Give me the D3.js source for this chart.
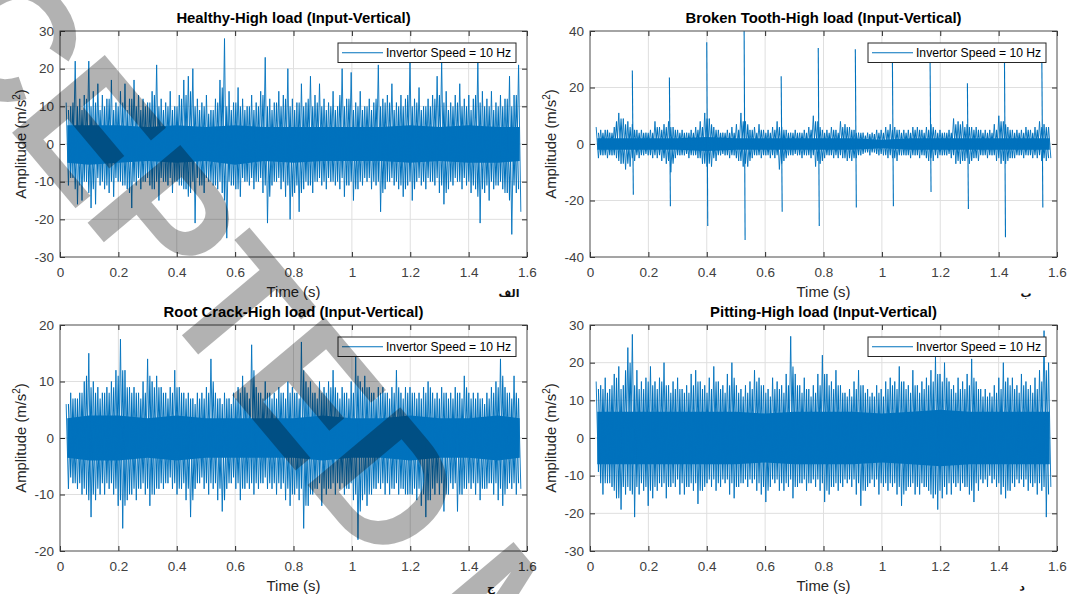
<!DOCTYPE html>
<html>
<head>
<meta charset="utf-8">
<script src="https://cdn.jsdelivr.net/npm/d3@7"></script>
<style>
  body { margin: 0; background: #fff; }
  svg { display: block; font-family: "Liberation Sans", Arial, sans-serif; }
</style>
</head>
<body>
<svg id="chart" width="1072" height="594"></svg>
<script>
// ─── Data ────────────────────────────────────────────────
// main peaks/troughs per bin: t = binStart + i * binStep
// secondary peaks/troughs sit half a bin later
const binStart = 0.025;
const binStep = 0.0155;
const xTicks = [0, 0.2, 0.4, 0.6, 0.8, 1, 1.2, 1.4, 1.6];
const coreT = [0.025, 0.1, 0.2, 0.3, 0.4, 0.5, 0.6, 0.7, 0.8, 0.9, 1.0, 1.1, 1.2, 1.3, 1.4, 1.5, 1.575];

const healthyHi = [11,10,22,12,13,22,14,16,13,12,17,11,14,16,12,17,13,12,11,14,21,12,11,14,10,13,17,18,20,12,11,13,9,12,17,28,14,11,15,12,10,13,11,14,23,12,11,14,13,20,12,11,16,11,18,13,16,12,11,14,10,20,12,19,11,14,10,12,11,21,12,13,16,11,13,12,22,12,15,10,12,13,18,22,14,11,13,16,12,13,12,22,14,12,14,11,13,12,18,13,21];
const healthyLo = [-11,-9,-16,-15,-10,-17,-16,-11,-12,-13,-14,-10,-11,-12,-17,-11,-12,-10,-11,-12,-15,-10,-11,-13,-10,-11,-12,-13,-21,-11,-13,-10,-11,-12,-13,-25,-11,-12,-14,-10,-11,-12,-10,-13,-21,-11,-10,-12,-14,-20,-13,-18,-12,-11,-13,-10,-11,-12,-10,-11,-12,-14,-11,-15,-12,-11,-10,-12,-11,-18,-12,-10,-11,-12,-14,-11,-15,-10,-11,-12,-10,-11,-13,-16,-12,-11,-10,-12,-11,-13,-12,-21,-13,-15,-12,-11,-12,-13,-24,-13,-18];
const healthyHi2 = [9,11,10,9,12,10,11,9,10,12,9,10,11,9,12,10,9,10,11,13,10,9,10,9,10,12,13,14,10,9,10,8,9,11,15,10,9,11,10,9,10,9,10,13,10,9,11,10,12,10,9,11,10,12,10,11,10,9,10,9,13,10,12,9,10,9,10,9,12,10,11,11,9,10,10,13,10,11,9,10,10,12,13,11,9,10,11,10,10,9,13,11,10,10,9,10,10,12,10,13];
const healthyLo2 = [-9,-12,-11,-10,-13,-12,-9,-10,-11,-10,-9,-10,-11,-13,-10,-9,-10,-9,-12,-10,-9,-10,-9,-10,-11,-12,-14,-10,-9,-11,-9,-10,-11,-10,-15,-10,-11,-12,-9,-10,-9,-10,-9,-11,-14,-10,-9,-10,-11,-14,-11,-13,-10,-11,-10,-9,-10,-9,-10,-10,-9,-11,-10,-12,-10,-9,-9,-10,-10,-13,-10,-9,-10,-11,-12,-10,-12,-9,-10,-9,-10,-9,-11,-13,-10,-9,-10,-9,-10,-11,-14,-12,-11,-10,-11,-10,-13,-15,-11,-12];
const healthyCoreHi = [5,5,5,4.5,5,4.5,5,4.5,4.5,4.5,4.5,4.5,5,4.5,5,4.5,4.5];
const healthyCoreLo = [-5,-5.5,-5,-4.5,-5,-4.5,-5.5,-4.5,-5,-4.5,-4.5,-4.5,-5,-4.5,-5,-5,-4.5];

const brokenHi = [6,5,5,4,6,11,9,8,7,5,5,4,5,8,6,7,8,6,5,5,4,5,6,8,11,9,6,5,4,5,6,7,11,8,5,6,7,5,5,6,8,6,5,4,5,4,5,6,10,8,5,5,6,5,8,7,6,5,4,4,4,4,5,5,6,7,6,5,5,5,6,6,5,6,7,5,5,4,5,9,8,8,7,6,6,5,5,5,7,10,8,6,5,5,5,6,5,6,8,7,6];
const brokenLo = [-5,-4,-5,-4,-5,-7,-9,-8,-6,-5,-4,-4,-5,-5,-6,-7,-10,-5,-4,-4,-5,-4,-5,-7,-8,-8,-6,-4,-4,-5,-4,-6,-8,-8,-5,-4,-5,-4,-5,-5,-9,-6,-4,-4,-4,-5,-4,-5,-8,-7,-5,-4,-5,-5,-5,-6,-6,-5,-4,-3,-4,-3,-4,-4,-5,-5,-6,-4,-4,-5,-4,-5,-4,-6,-6,-5,-4,-4,-5,-7,-7,-6,-7,-5,-6,-4,-5,-4,-6,-7,-7,-5,-5,-4,-5,-4,-5,-5,-6,-6,-5];
const brokenHi2 = [4,4,5,4,8,9,7,6,5,4,4,4,4,6,5,6,6,5,4,4,4,4,5,6,9,7,5,4,4,4,4,5,8,7,5,4,5,4,4,5,6,5,4,4,4,4,4,5,8,6,4,4,5,4,6,6,5,4,4,3,3.5,3.5,4,4,5,5,5,4,4,4,5,5,4,5,6,4,4,4,4,7,7,6,6,5,5,4,4,4,5,8,7,5,4,4,4,5,4,5,6,6];
const brokenLo2 = [-4,-4,-4,-4,-6,-7,-7,-5,-4,-4,-3.5,-4,-4,-4,-5,-6,-7,-4,-4,-3.5,-4,-4,-5,-7,-7,-5,-4,-3.5,-4,-4,-5,-6,-7,-6,-4,-4,-4,-4,-4,-4,-7,-5,-4,-3.5,-4,-4,-4,-4,-6,-6,-4,-4,-4,-4,-5,-5,-5,-4,-3.5,-3,-3,-3.5,-3.5,-4,-4,-5,-4,-4,-4,-4,-4,-4,-5,-5,-4,-4,-4,-3.5,-4,-6,-6,-5,-6,-5,-4,-4,-4,-4,-5,-6,-6,-5,-4,-4,-4,-4,-4,-4,-5,-5];
const brokenCoreHi = [2,2,2,2,2.5,2,2,2,2,2,1.5,2,2,2,2,2,2];
const brokenCoreLo = [-2,-2,-2,-2,-2.5,-2,-2,-2,-2,-2,-1.5,-2,-2,-2,-2,-2,-2];
// tooth impacts
const impactT = [0.145, 0.272, 0.400, 0.528, 0.655, 0.782, 0.909, 1.036, 1.165, 1.293, 1.420, 1.548];
const impactHi = [26, 23.5, 36, 41, 24, 34, 33.5, 31, 31, 21.5, 31, 30.5];
const impactLo = [-18, -22, -29, -34, -24, -29, -22.5, -22, -17, -23, -33, -22.5];

const crackHi = [6,8,7,8,10,15,10,9,8,9,10,12,17.5,12,9,9,8,10,14,10,11,9,8,9,12,9,8,8,7,8,8,9,14,8,7,8,7,8,9,11,8,16.5,9,8,10,8,8,9,8,10,9,8,17,10,10,8,10,9,10,12,8,9,8,10,14.5,10,11,9,8,9,9,8,9,12,8,9,9,8,8,9,10,8,8,9,8,8,9,8,11,8,8,8,7,8,9,10,14,9,8,11,7];
const crackLo = [-9,-8,-9,-10,-10,-14,-11,-10,-10,-9,-10,-12,-16,-11,-10,-11,-9,-10,-12,-10,-9,-9,-8,-9,-10,-9,-11,-14,-9,-8,-9,-10,-9,-11,-13,-9,-8,-9,-11,-9,-9,-10,-9,-8,-9,-9,-10,-9,-11,-12,-10,-11,-16,-12,-10,-9,-12,-10,-9,-10,-9,-10,-9,-11,-18,-11,-12,-10,-9,-9,-10,-10,-9,-10,-9,-10,-10,-11,-12,-14,-11,-10,-10,-13,-10,-9,-13,-10,-9,-9,-10,-11,-9,-8,-10,-11,-12,-9,-9,-10,-9];
const crackHi2 = [6,7,7,8,11,9,8,7,8,8,9,11,12,9,8,8,7,8,11,9,9,8,7,8,9,8,7,7,6,7,7,8,10,7,6,7,6,7,8,9,7,12,8,7,8,7,7,8,7,8,8,7,12,9,8,7,8,8,9,9,7,8,7,8,11,9,9,8,7,8,8,7,8,9,7,8,8,7,7,8,9,7,7,8,7,7,8,7,9,7,7,7,6,7,8,9,11,8,7,8];
const crackLo2 = [-7,-8,-8,-9,-11,-10,-9,-8,-8,-8,-9,-11,-12,-10,-9,-9,-8,-9,-10,-9,-8,-8,-7,-8,-9,-8,-9,-11,-8,-7,-8,-8,-8,-9,-11,-8,-7,-8,-9,-8,-8,-8,-8,-7,-8,-8,-8,-8,-9,-10,-9,-9,-12,-10,-9,-8,-9,-9,-8,-8,-8,-9,-8,-10,-13,-10,-10,-9,-8,-8,-8,-9,-8,-9,-10,-10,-9,-9,-10,-11,-9,-8,-8,-10,-8,-8,-10,-9,-8,-8,-8,-9,-9,-8,-8,-9,-10,-8,-8,-8];
const crackCoreHi = [3.5,4,4,3.5,4,3.5,3.5,3.5,3.5,4,3.5,3.5,4,3.5,3.5,4,3.5];
const crackCoreLo = [-3.5,-4,-4,-3.5,-4,-3.5,-3.5,-3.5,-3.5,-4,-3.5,-3.5,-4,-3.5,-3.5,-4,-3.5];

const pittingHi = [15,14,16,13,17,19,14,24,27.5,18,15,16,19,15,16,20,14,15,16,13,14,17,18,15,14,16,19,15,14,17,20,14,13,14,15,18,16,14,13,16,15,14,17,27,17,14,16,13,14,17,22,17,15,18,14,12,13,15,18,14,13,12,14,13,15,16,15,19,15,14,18,14,15,16,18,21.5,17,20,15,14,16,15,17,21,15,13,13,12,14,16,20,16,16,14,17,15,14,16,18,28.5,20];
const pittingLo = [-9,-15,-12,-13,-16,-19,-15,-14,-21,-15,-14,-18,-16,-14,-13,-16,-13,-13,-15,-15,-13,-14,-17.5,-14,-12,-13,-14,-13,-12,-15,-16,-13,-12,-13,-12,-14,-15,-17,-13,-12,-14,-14,-13,-16,-13,-12,-14,-12,-13,-14,-17,-15,-13,-14,-13,-12,-13,-15,-18,-14,-12,-13,-15,-13,-14,-13,-15,-18,-14,-13,-15,-15,-13,-14,-16,-19,-16,-15,-15,-13,-14,-13,-15,-17,-14,-12,-13,-12,-13,-15,-16,-14,-13,-12,-13,-14,-13,-15,-14,-21,-13];
const pittingHi2 = [13,13,12,14,16,13,18,20,14,13,13,15,14,13,15,14,12,13,13,12,12,14,15,13,12,13,15,13,12,14,16,12,11,12,13,15,14,12,11,13,13,12,14,19,14,12,13,11,12,14,17,14,13,14,12,11,11,13,14,12,11,11,12,11,13,14,13,15,13,12,14,12,13,14,15,17,15,16,13,12,13,13,14,16,13,11,11,11,12,13,15,14,13,12,14,13,12,13,15,18];
const pittingLo2 = [-12,-12,-12,-14,-16,-13,-13,-15,-13,-12,-13,-14,-13,-12,-12,-13,-12,-11,-12,-13,-12,-12,-14,-13,-11,-11,-12,-11,-11,-12,-13,-12,-11,-11,-11,-12,-13,-14,-11,-11,-12,-12,-11,-13,-12,-11,-12,-11,-11,-12,-14,-13,-12,-12,-11,-11,-11,-12,-14,-13,-11,-11,-12,-12,-12,-12,-13,-15,-13,-12,-13,-12,-13,-15,-15,-14,-13,-12,-12,-12,-12,-13,-14,-12,-11,-11,-10,-11,-12,-13,-14,-12,-11,-11,-11,-12,-12,-12,-13,-15];
const pittingCoreHi = [7,7,7,7,7,7,6.5,7,7,7,6.5,7,7.5,7,7,7,7];
const pittingCoreLo = [-7,-7,-7,-7,-7,-7,-6.5,-7,-7,-7,-6.5,-7,-7.5,-7,-7,-7,-7];

const legendText = 'Invertor Speed = 10 Hz';
const watermarkText = 'ACCEPTED MANUSCRIPT';

// ─── Layout ──────────────────────────────────────────────
const BLUE = '#0072BD';
const W = 467, H = 226;
const panels = [
  { title: 'Healthy-High load (Input-Vertical)', left: 60, top: 31,
    hi: healthyHi, lo: healthyLo, hi2: healthyHi2, lo2: healthyLo2, coreHi: healthyCoreHi, coreLo: healthyCoreLo,
    yDomain: [-30, 30], yTicks: [-30, -20, -10, 0, 10, 20, 30], tag: 'الف', tagX: 509 },
  { title: 'Broken Tooth-High load (Input-Vertical)', left: 590, top: 31,
    hi: brokenHi, lo: brokenLo, hi2: brokenHi2, lo2: brokenLo2, coreHi: brokenCoreHi, coreLo: brokenCoreLo,
    yDomain: [-40, 40], yTicks: [-40, -20, 0, 20, 40], tag: 'ب', tagX: 1026, impacts: true },
  { title: 'Root Crack-High load (Input-Vertical)', left: 60, top: 325,
    hi: crackHi, lo: crackLo, hi2: crackHi2, lo2: crackLo2, coreHi: crackCoreHi, coreLo: crackCoreLo,
    yDomain: [-20, 20], yTicks: [-20, -10, 0, 10, 20], tag: 'ج', tagX: 491 },
  { title: 'Pitting-High load (Input-Vertical)', left: 590, top: 325,
    hi: pittingHi, lo: pittingLo, hi2: pittingHi2, lo2: pittingLo2, coreHi: pittingCoreHi, coreLo: pittingCoreLo,
    yDomain: [-30, 30], yTicks: [-30, -20, -10, 0, 10, 20, 30], tag: 'د', tagX: 1022 },
];

const svg = d3.select('#chart');
const defs = svg.append('defs');

function swing(hi, lo, offset, x, y) {
  const q = binStep / 4;
  const pts = [];
  hi.forEach((h, i) => {
    const t = binStart + (i + offset) * binStep;
    pts.push([x(t - q), y(h)], [x(t + q), y(lo[i])]);
  });
  return d3.line()(pts);
}

panels.forEach((p, k) => {
  const x = d3.scaleLinear().domain([0, 1.6]).range([0, W]);
  const y = d3.scaleLinear().domain(p.yDomain).range([H, 0]);
  const g = svg.append('g').attr('transform', `translate(${p.left},${p.top})`);

  defs.append('clipPath').attr('id', `clip${k}`)
    .append('rect').attr('width', W).attr('height', H);

  g.append('rect').attr('width', W).attr('height', H).attr('fill', '#fff');

  // grid
  g.append('g').selectAll('line').data(xTicks.slice(1, -1)).join('line')
    .attr('x1', d => x(d)).attr('x2', d => x(d)).attr('y1', 0).attr('y2', H)
    .attr('stroke', '#dfdfdf').attr('stroke-width', 1);
  g.append('g').selectAll('line').data(p.yTicks.slice(1, -1)).join('line')
    .attr('y1', d => y(d)).attr('y2', d => y(d)).attr('x1', 0).attr('x2', W)
    .attr('stroke', '#dfdfdf').attr('stroke-width', 1);

  const plot = g.append('g').attr('clip-path', `url(#clip${k})`);

  // dense core of the signal
  const area = d3.area()
    .x((d, i) => x(coreT[i]))
    .y0((d, i) => y(p.coreLo[i]))
    .y1(d => y(d));
  plot.append('path').attr('d', area(p.coreHi)).attr('fill', BLUE);

  // oscillation between peaks and troughs
  plot.append('path').attr('d', swing(p.hi2, p.lo2, 0.5, x, y))
    .attr('fill', 'none').attr('stroke', BLUE).attr('stroke-width', 1.05);
  plot.append('path').attr('d', swing(p.hi, p.lo, 0, x, y))
    .attr('fill', 'none').attr('stroke', BLUE).attr('stroke-width', 0.9);

  if (p.impacts) {
    plot.append('g').selectAll('path').data(impactT).join('path')
      .attr('d', (d, i) => `M${x(d)},${y(impactHi[i])}L${x(d) + 1},${y(impactLo[i])}`)
      .attr('stroke', BLUE).attr('stroke-width', 1.1).attr('fill', 'none');
  }

  // axes (MATLAB style: inward ticks on all sides)
  const tickFmt = d => String(d);
  const ax = g.append('g');
  ax.append('g').attr('transform', `translate(0,${H})`)
    .call(d3.axisBottom(x).tickValues(xTicks).tickFormat(tickFmt).tickSizeInner(-5).tickSizeOuter(0).tickPadding(10));
  ax.append('g')
    .call(d3.axisLeft(y).tickValues(p.yTicks).tickFormat(tickFmt).tickSizeInner(-5).tickSizeOuter(0).tickPadding(6));
  ax.append('g')
    .call(d3.axisTop(x).tickValues(xTicks).tickFormat('').tickSizeInner(-5).tickSizeOuter(0));
  ax.append('g').attr('transform', `translate(${W},0)`)
    .call(d3.axisRight(y).tickValues(p.yTicks).tickFormat('').tickSizeInner(-5).tickSizeOuter(0));
  ax.selectAll('.domain').remove();
  ax.selectAll('.tick line').attr('stroke', '#262626');
  ax.selectAll('.tick text')
    .attr('fill', '#404040')
    .style('font-size', '13.5px')
    .style('font-family', '"Liberation Sans", Arial, sans-serif');

  g.append('rect').attr('width', W).attr('height', H)
    .attr('fill', 'none').attr('stroke', '#4a4a4a').attr('stroke-width', 1);

  // legend
  const lw = 178, lh = 19.5, lx = W - 11 - lw, ly = 12;
  const leg = g.append('g').attr('transform', `translate(${lx},${ly})`);
  leg.append('rect').attr('width', lw).attr('height', lh)
    .attr('fill', '#fff').attr('stroke', '#262626').attr('stroke-width', 1);
  leg.append('line').attr('x1', 4).attr('x2', 45).attr('y1', lh / 2).attr('y2', lh / 2)
    .attr('stroke', BLUE).attr('stroke-width', 1);
  leg.append('text').attr('x', 48).attr('y', lh / 2 + 4.3)
    .attr('font-size', 12.15).attr('fill', '#000').text(legendText);

  // titles and labels
  g.append('text').attr('x', W / 2).attr('y', -8).attr('text-anchor', 'middle')
    .attr('font-size', 14.85).attr('font-weight', 'bold').attr('fill', '#000').text(p.title);
  g.append('text').attr('x', W / 2).attr('y', H + 40).attr('text-anchor', 'middle')
    .attr('font-size', 14.85).attr('fill', '#262626').text('Time (s)');
  const yl = g.append('text').attr('transform', `translate(-34,${H / 2}) rotate(-90)`)
    .attr('text-anchor', 'middle').attr('font-size', 14.85).attr('fill', '#262626');
  yl.append('tspan').text('Amplitude (m/s');
  yl.append('tspan').attr('font-size', 10).attr('dy', -6).text('2');
  yl.append('tspan').attr('dy', 6).text(')');

  svg.append('text').attr('x', p.tagX).attr('y', p.top + H + 40)
    .attr('text-anchor', 'middle').attr('font-family', '"DejaVu Sans", sans-serif')
    .attr('font-size', 11).attr('font-weight', 'bold').attr('fill', '#111').text(p.tag);
});

// ─── Watermark ───────────────────────────────────────────
const wm = svg.append('g').attr('transform', 'translate(300,476) rotate(50)');
const wmText = wm.append('text').attr('font-size', 176).attr('font-weight', 'bold')
  .attr('fill', '#000').attr('fill-opacity', 0.3).text(watermarkText);
wmText.attr('x', -wmText.node().getSubStringLength(0, 7));
</script>
</body>
</html>
